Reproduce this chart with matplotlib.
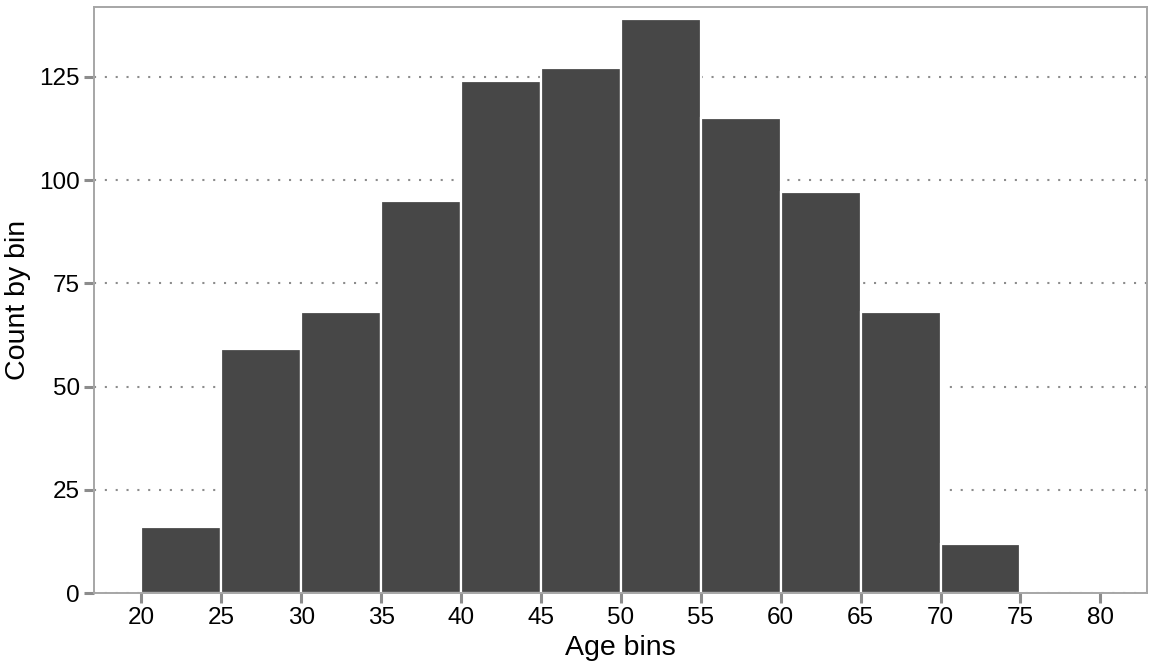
import numpy as np
import matplotlib.pyplot as plt

plt.rcParams['font.family'] = ['Liberation Sans', 'DejaVu Sans']

bin_edges = [20, 25, 30, 35, 40, 45, 50, 55, 60, 65, 70, 75, 80]
counts = [16, 59, 68, 95, 124, 127, 139, 115, 97, 68, 12, 0]
x_ticks = [20, 25, 30, 35, 40, 45, 50, 55, 60, 65, 70, 75, 80]
y_ticks = [0, 25, 50, 75, 100, 125]

W, H = 1152, 672
fig = plt.figure(figsize=(W / 100, H / 100), dpi=100)
ax = fig.add_axes([94 / W, 1 - 593.3 / H, (1146.7 - 94) / W, (593.3 - 7.3) / H])

edges = np.array(bin_edges)
ax.bar(edges[:-1], counts, width=np.diff(edges), align='edge',
       color='#474747', edgecolor='white', linewidth=1.6, zorder=2)

ax.set_xlim(17.04, 82.9)
ax.set_ylim(0, 141.8)
ax.set_xticks(x_ticks)
ax.set_yticks(y_ticks)

# dotted horizontal grid like the reference
grid_c = '#8c8c8c'
ax.yaxis.grid(True, color=grid_c, linestyle=(0, (1.0, 4.2)), linewidth=1.5, zorder=1)
ax.set_axisbelow(True)
for s in ax.spines.values():
    s.set_color('#a6a6a6')
    s.set_linewidth(1.4)
ax.tick_params(axis='both', colors=grid_c, length=7, width=2.2,
               labelsize=17.5, labelcolor='black', pad=3)

ax.set_xlabel('Age bins', fontsize=20.5, labelpad=4)
ax.set_ylabel('Count by bin', fontsize=20.5, labelpad=6)

fig.savefig('out.png', dpi=100)
